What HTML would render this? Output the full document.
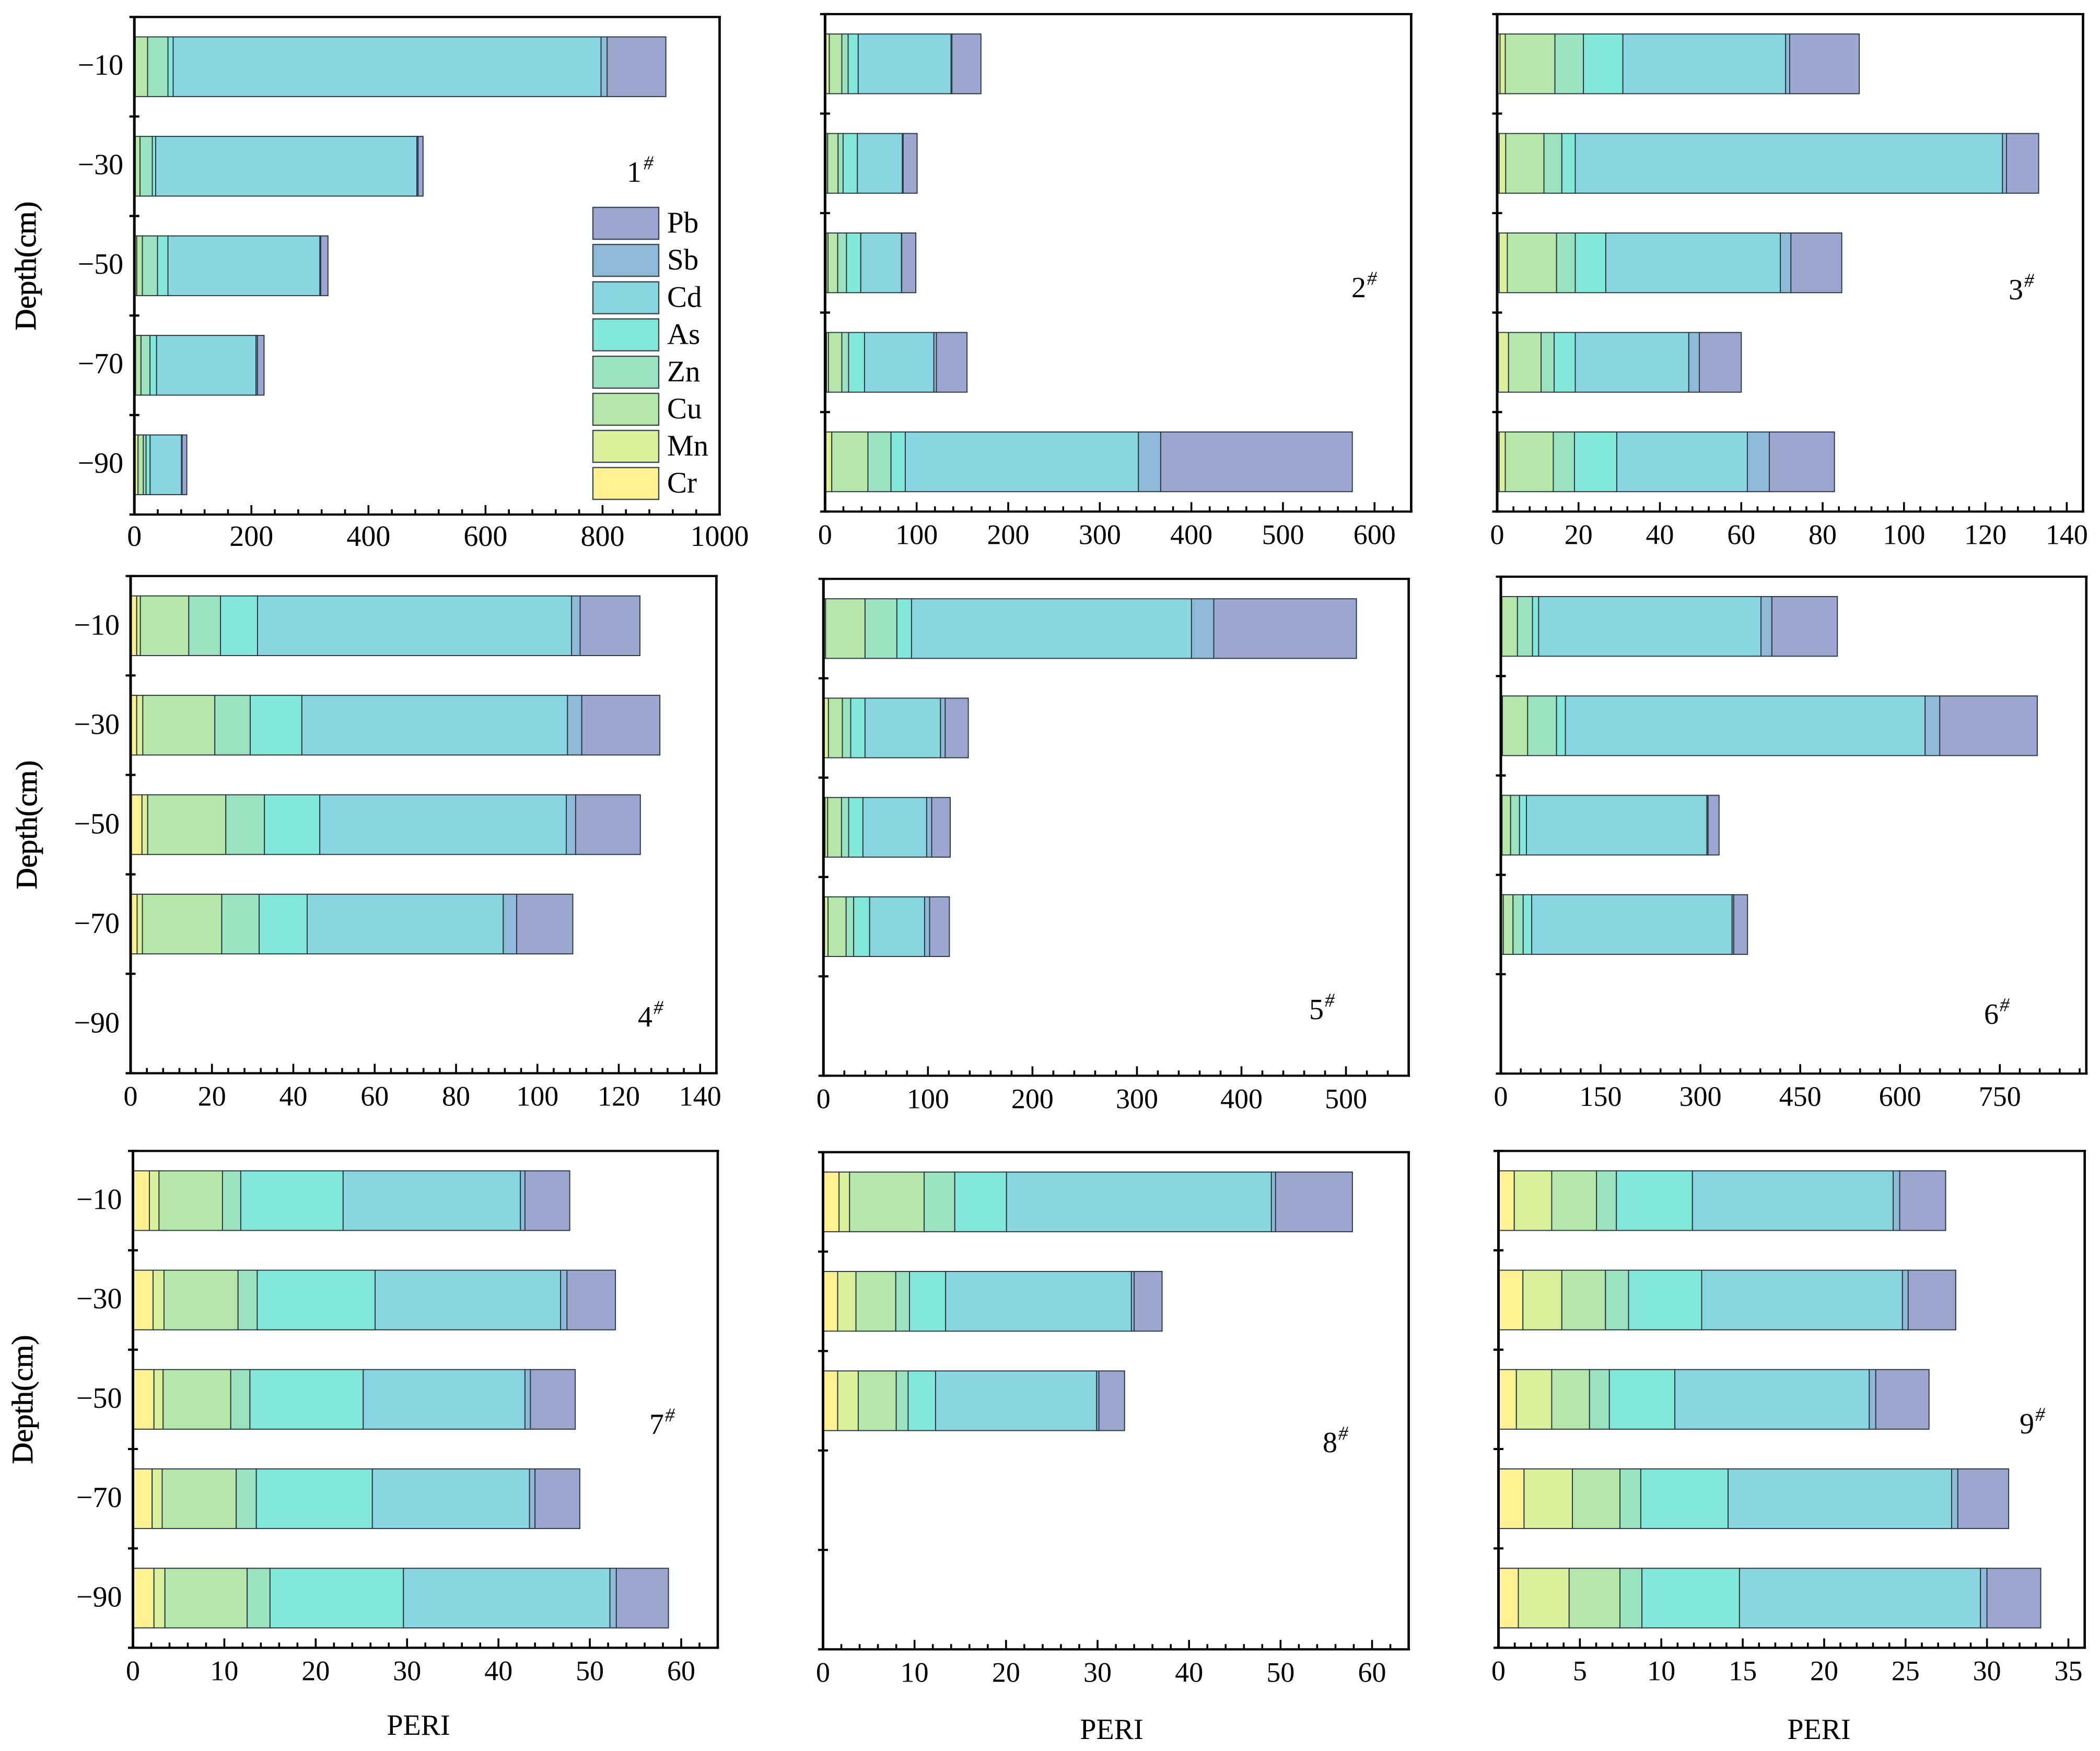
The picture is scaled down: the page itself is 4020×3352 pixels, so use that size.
<!DOCTYPE html>
<html lang="en">
<head>
<meta charset="utf-8">
<title>PERI by depth, sites 1-9</title>
<style>
html,body{margin:0;padding:0;background:#fff;}
svg{display:block;}
text{font-family:"Liberation Serif",serif;fill:#000;}
</style>
</head>
<body>
<svg id="chart" xmlns="http://www.w3.org/2000/svg" width="4020" height="3352" viewBox="0 0 4020 3352">
<rect x="0" y="0" width="4020" height="3352" fill="#ffffff"/>
<g id="plots"></g>

<g font-size="57" stroke="#000" stroke-width="0.8">
<text text-anchor="middle" transform="translate(68,509) rotate(-90)">Depth(cm)</text>
<text text-anchor="middle" transform="translate(70,1579) rotate(-90)">Depth(cm)</text>
<text text-anchor="middle" transform="translate(62,2679) rotate(-90)">Depth(cm)</text>
</g>

<g font-size="56" text-anchor="middle">
<text x="801" y="3321">PERI</text>
<text x="2128" y="3329">PERI</text>
<text x="3482" y="3329">PERI</text>
</g>

<g font-size="56">
<text x="1200" y="348">1<tspan font-size="37" font-style="italic" dx="4" dy="-24">#</tspan></text>
<text x="2587" y="569">2<tspan font-size="37" font-style="italic" dx="2" dy="-24">#</tspan></text>
<text x="3845" y="573">3<tspan font-size="37" font-style="italic" dx="2" dy="-24">#</tspan></text>
<text x="1221" y="1965">4<tspan font-size="37" font-style="italic" dx="2" dy="-24">#</tspan></text>
<text x="2506" y="1951">5<tspan font-size="37" font-style="italic" dx="2" dy="-24">#</tspan></text>
<text x="3798" y="1960">6<tspan font-size="37" font-style="italic" dx="2" dy="-24">#</tspan></text>
<text x="1243" y="2745">7<tspan font-size="37" font-style="italic" dx="2" dy="-24">#</tspan></text>
<text x="2532" y="2780">8<tspan font-size="37" font-style="italic" dx="2" dy="-24">#</tspan></text>
<text x="3866" y="2744">9<tspan font-size="37" font-style="italic" dx="2" dy="-24">#</tspan></text>
</g>

<g font-size="57" stroke-linejoin="miter">
<g><rect x="1135" y="397" width="126" height="61" fill="#9da5d1" stroke="#3e4a52" stroke-width="2.4"/><text x="1277" y="445">Pb</text></g>
<g><rect x="1135" y="468" width="126" height="61" fill="#8fb9d9" stroke="#3e4a52" stroke-width="2.4"/><text x="1277" y="516">Sb</text></g>
<g><rect x="1135" y="539.5" width="126" height="61" fill="#89d6e0" stroke="#3e4a52" stroke-width="2.4"/><text x="1277" y="587.5">Cd</text></g>
<g><rect x="1135" y="610.5" width="126" height="61" fill="#84e8d9" stroke="#3e4a52" stroke-width="2.4"/><text x="1277" y="658.5">As</text></g>
<g><rect x="1135" y="682" width="126" height="61" fill="#9be2c0" stroke="#3e4a52" stroke-width="2.4"/><text x="1277" y="730">Zn</text></g>
<g><rect x="1135" y="753" width="126" height="61" fill="#b5e7aa" stroke="#3e4a52" stroke-width="2.4"/><text x="1277" y="801">Cu</text></g>
<g><rect x="1135" y="824" width="126" height="61" fill="#dbf09a" stroke="#3e4a52" stroke-width="2.4"/><text x="1277" y="872">Mn</text></g>
<g><rect x="1135" y="895" width="126" height="61" fill="#fdf193" stroke="#3e4a52" stroke-width="2.4"/><text x="1277" y="943">Cr</text></g>
</g>
</svg>

<script>
// Category and series names
const depthLabels = ['\u221210', '\u221230', '\u221250', '\u221270', '\u221290'];
const metals = ['Cr', 'Mn', 'Cu', 'Zn', 'As', 'Cd', 'Sb', 'Pb'];

// Values per site: one row per depth, in the order of `metals`; null = no sample
const site1 = [
  [0.5, 1, 21.1, 34.8, 8.9, 731.1, 10.5, 100.3],
  [0.5, 1, 8.2, 21, 5.7, 446.4, 2, 8.5],
  [0.5, 3.5, 9.7, 25.9, 17.8, 259.6, 1.5, 12.3],
  [0.5, 1.5, 9.3, 15.4, 11.3, 169.8, 2.5, 11.3],
  [0.5, 5.8, 9, 4.7, 6.9, 53.6, 1.1, 8]
];
const site2 = [
  [0.5, 4.1, 13.7, 6.9, 11, 101.4, 0.9, 31.7],
  [1, 1.8, 11.4, 5.5, 15.6, 49.1, 0.9, 15.2],
  [1.2, 2, 10.6, 9.6, 15.6, 44.5, 0.2, 15.4],
  [1.5, 2.2, 14.6, 7.4, 17.4, 75.7, 2.8, 33.4],
  [0.3, 7, 39.5, 25.2, 15.6, 254.6, 24.3, 209.2]
];
const site3 = [
  [0.7, 1.3, 12.2, 7, 9.7, 40, 1, 17.1],
  [0.5, 1.6, 9.4, 4.4, 3.3, 105, 1, 7.9],
  [0.5, 2, 12.1, 4.6, 7.5, 42.9, 2.6, 12.5],
  [0.3, 2.5, 8, 3.2, 5.2, 27.9, 2.6, 10.3],
  [0.5, 1.5, 11.8, 5.2, 10.4, 32.1, 5.4, 16]
];
const site4 = [
  [1.5, 0.9, 11.9, 7.8, 9.1, 77.2, 2.1, 14.7],
  [1.5, 1.5, 17.7, 8.7, 12.7, 65.3, 3.5, 19.2],
  [2.8, 1.4, 19.2, 9.5, 13.6, 60.6, 2.3, 15.9],
  [1.6, 1.3, 19.5, 9.2, 11.8, 48.2, 3.3, 13.8],
  null
];
const site5 = [
  [0.5, 1.5, 37.8, 30.5, 14, 267.9, 21.3, 136.5],
  [0.3, 4.5, 13.3, 8, 13.7, 72.2, 4.5, 22.1],
  [1.5, 2.5, 13.3, 6.8, 13.7, 61, 4.8, 17.7],
  [1, 3.4, 17.3, 7.2, 15.3, 52.6, 4.8, 18.9],
  null
];
const site6 = [
  [0.5, 1, 23.5, 22.6, 9.2, 334.2, 16.4, 98.4],
  [0.5, 1.9, 37.9, 43.4, 13.4, 540.6, 22, 146.6],
  [0.5, 1.3, 12.9, 13.4, 10.4, 271.2, 1.8, 16.5],
  [0.5, 3.2, 14.6, 15.3, 12.8, 301.2, 2.5, 20.7],
  null
];
const site7 = [
  [1.8, 1.05, 6.95, 2, 11.2, 19.4, 0.5, 4.9],
  [2.2, 1.2, 8.1, 2.1, 12.9, 20.3, 0.7, 5.3],
  [2.3, 1, 7.4, 2.1, 12.4, 17.7, 0.6, 4.9],
  [2.1, 1.1, 8.1, 2.2, 12.7, 17.2, 0.6, 4.9],
  [2.3, 1.2, 9, 2.5, 14.6, 22.6, 0.7, 5.7]
];
const site8 = [
  [1.75, 1.15, 8.15, 3.35, 5.65, 28.95, 0.45, 8.4],
  [1.6, 2, 4.35, 1.5, 3.95, 20.3, 0.3, 3.05],
  [1.6, 2.25, 4.15, 1.3, 3, 17.6, 0.25, 2.8],
  null,
  null
];
const site9 = [
  [0.97, 2.3, 2.75, 1.22, 4.67, 12.33, 0.4, 2.82],
  [1.5, 2.39, 2.68, 1.42, 4.49, 12.33, 0.35, 2.92],
  [1.1, 2.17, 2.32, 1.22, 4.02, 11.94, 0.4, 3.27],
  [1.57, 2.97, 2.92, 1.28, 5.36, 13.73, 0.38, 3.12],
  [1.22, 3.12, 3.12, 1.35, 5.99, 14.8, 0.4, 3.3]
];

// X tick labels per site
const ticks1 = [0, 200, 400, 600, 800, 1000];
const ticks2 = [0, 100, 200, 300, 400, 500, 600];
const ticks3 = [0, 20, 40, 60, 80, 100, 120, 140];
const ticks4 = [0, 20, 40, 60, 80, 100, 120, 140];
const ticks5 = [0, 100, 200, 300, 400, 500];
const ticks6 = [0, 150, 300, 450, 600, 750];
const ticks7 = [0, 10, 20, 30, 40, 50, 60];
const ticks8 = [0, 10, 20, 30, 40, 50, 60];
const ticks9 = [0, 5, 10, 15, 20, 25, 30, 35];

// Panel layout (frame edges in px, x-axis maximum, minor tick step, label offsets)
const colors = ['#fdf193', '#dbf09a', '#b5e7aa', '#9be2c0', '#84e8d9', '#89d6e0', '#8fb9d9', '#9da5d1'];
const panels = [
  {id: 1, data: site1, ticks: ticks1, minor: 40, xMax: 1000, l: 257.2, r: 1377.5, t: 32.5, b: 985, font: 56, yLabels: true, yOff: 15, xOff: 60},
  {id: 2, data: site2, ticks: ticks2, minor: 20, xMax: 640, l: 1579.4, r: 2701.4, t: 27, b: 979.3, font: 54, yLabels: false, yOff: 17, xOff: 62},
  {id: 3, data: site3, ticks: ticks3, minor: 4, xMax: 144, l: 2866, r: 3987.5, t: 27, b: 979.3, font: 54, yLabels: false, yOff: 17, xOff: 62},
  {id: 4, data: site4, ticks: ticks4, minor: 4, xMax: 144, l: 250, r: 1371.4, t: 1102.7, b: 2054.5, font: 54, yLabels: true, yOff: 17, xOff: 62},
  {id: 5, data: site5, ticks: ticks5, minor: 20, xMax: 560, l: 1576.3, r: 2696.6, t: 1108.2, b: 2059.3, font: 54, yLabels: false, yOff: 17, xOff: 62},
  {id: 6, data: site6, ticks: ticks6, minor: 30, xMax: 880, l: 2873, r: 3993.8, t: 1104, b: 2055.2, font: 54, yLabels: false, yOff: 17, xOff: 62},
  {id: 7, data: site7, ticks: ticks7, minor: 2, xMax: 64, l: 254.5, r: 1374, t: 2203.3, b: 3154.4, font: 54, yLabels: true, yOff: 16, xOff: 62},
  {id: 8, data: site8, ticks: ticks8, minor: 2, xMax: 64, l: 1575.5, r: 2696.6, t: 2205.6, b: 3157.4, font: 54, yLabels: false, yOff: 17, xOff: 62},
  {id: 9, data: site9, ticks: ticks9, minor: 1, xMax: 36, l: 2868.5, r: 3990.7, t: 2203.3, b: 3154.4, font: 54, yLabels: false, yOff: 17, xOff: 62}
];

const SVG_NS = 'http://www.w3.org/2000/svg';
const BAR_FRACTION = 0.6;
const root = document.getElementById('plots');

function xScale(panel, value) {
  return panel.l + (value / panel.xMax) * (panel.r - panel.l);
}
function bandHeight(panel) {
  return (panel.b - panel.t) / depthLabels.length;
}
function yEdge(panel, index) {
  return panel.t + index * bandHeight(panel);
}
function yCenter(panel, index) {
  return panel.t + (index + 0.5) * bandHeight(panel);
}
function line(parent, x1, y1, x2, y2, width) {
  const el = document.createElementNS(SVG_NS, 'line');
  el.setAttribute('x1', x1);
  el.setAttribute('y1', y1);
  el.setAttribute('x2', x2);
  el.setAttribute('y2', y2);
  el.setAttribute('stroke', '#000');
  el.setAttribute('stroke-width', width);
  parent.appendChild(el);
  return el;
}

panels.forEach(function (panel) {
  const group = document.createElementNS(SVG_NS, 'g');
  
  
  root.appendChild(group);

  // Stacked bars
  const barHeight = bandHeight(panel) * BAR_FRACTION;
  panel.data.forEach(function (row, depthIndex) {
    if (!row) return;
    let cumulative = 0;
    row.forEach(function (value, metalIndex) {
      const x0 = xScale(panel, cumulative);
      cumulative += value;
      const x1 = xScale(panel, cumulative);
      const rect = document.createElementNS(SVG_NS, 'rect');
      
      
      rect.setAttribute('x', x0);
      rect.setAttribute('y', yCenter(panel, depthIndex) - barHeight / 2);
      rect.setAttribute('width', x1 - x0);
      rect.setAttribute('height', barHeight);
      rect.setAttribute('fill', colors[metalIndex]);
      rect.setAttribute('stroke', '#2c3c44');
      rect.setAttribute('stroke-width', '2');
      group.appendChild(rect);
    });
  });

  // Frame
  const frame = document.createElementNS(SVG_NS, 'g');
  
  
  group.appendChild(frame);
  line(frame, panel.l - 2.5, panel.t, panel.r + 2.5, panel.t, 4.2);
  line(frame, panel.l - 2.5, panel.b, panel.r + 2.5, panel.b, 4.2);
  line(frame, panel.l, panel.t - 2, panel.l, panel.b + 2, 5);
  line(frame, panel.r, panel.t - 2, panel.r, panel.b + 2, 4.6);

  // Y ticks at the band edges
  const yAxis = document.createElementNS(SVG_NS, 'g');
  
  
  group.appendChild(yAxis);
  for (let i = 0; i <= depthLabels.length; i++) {
    line(yAxis, panel.l - 9.5, yEdge(panel, i), panel.l + 9.5, yEdge(panel, i), 4.2);
  }
  if (panel.yLabels) {
    depthLabels.forEach(function (label, i) {
      const text = document.createElementNS(SVG_NS, 'text');
      
      
      text.setAttribute('x', panel.l - 21);
      text.setAttribute('y', yCenter(panel, i) + panel.yOff);
      text.setAttribute('text-anchor', 'end');
      text.setAttribute('font-size', 56);
      text.textContent = label;
      yAxis.appendChild(text);
    });
  }

  // X ticks
  const xAxis = document.createElementNS(SVG_NS, 'g');
  
  
  group.appendChild(xAxis);
  for (let k = 1; k * panel.minor < panel.xMax + 1e-9; k++) {
    const v = k * panel.minor;
    const isMajor = panel.ticks.indexOf(v) >= 0;
    line(xAxis, xScale(panel, v), panel.b, xScale(panel, v), panel.b - (isMajor ? 18 : 10), 3.6);
  }
  panel.ticks.forEach(function (tick) {
    const text = document.createElementNS(SVG_NS, 'text');
    
    
    text.setAttribute('x', xScale(panel, tick));
    text.setAttribute('y', panel.b + panel.xOff);
    text.setAttribute('text-anchor', 'middle');
    text.setAttribute('font-size', panel.font);
    text.textContent = String(tick);
    xAxis.appendChild(text);
  });
});
</script>
</body>
</html>
